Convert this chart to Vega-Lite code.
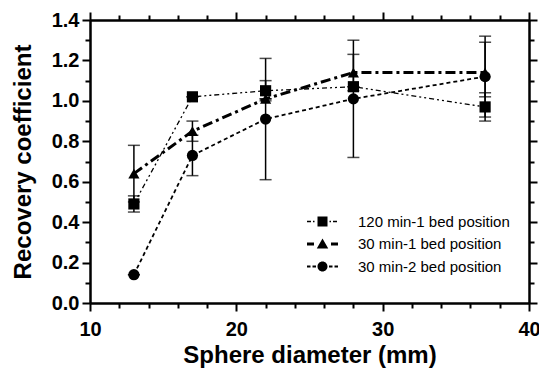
{
  "$schema": "https://vega.github.io/schema/vega-lite/v6.json",
  "width": 439,
  "height": 283,
  "autosize": "none",
  "padding": {"left": 90, "top": 20, "right": 10, "bottom": 67},
  "background": "white",
  "config": {
    "view": {"stroke": null},
    "axis": {
      "grid": false,
      "domainColor": "black",
      "domainWidth": 2,
      "tickColor": "black",
      "tickWidth": 2,
      "labelFont": "Liberation Sans",
      "labelFontWeight": "bold",
      "labelFontSize": 20,
      "labelColor": "black",
      "labelFlush": false,
      "labelOverlap": false,
      "titleFont": "Liberation Sans",
      "titleFontWeight": "bold",
      "titleFontSize": 24,
      "titleColor": "black"
    }
  },
  "data": {
    "values": [
      {"s": "120 min-1 bed position", "d": 13, "rc": 0.49, "lo": 0.45, "hi": 0.53},
      {"s": "120 min-1 bed position", "d": 17, "rc": 1.02, "lo": 1.02, "hi": 1.02},
      {"s": "120 min-1 bed position", "d": 22, "rc": 1.05, "lo": 1.00, "hi": 1.10},
      {"s": "120 min-1 bed position", "d": 28, "rc": 1.07, "lo": 1.07, "hi": 1.07},
      {"s": "120 min-1 bed position", "d": 37, "rc": 0.97, "lo": 0.90, "hi": 1.04},
      {"s": "30 min-1 bed position", "d": 13, "rc": 0.64, "lo": 0.50, "hi": 0.78},
      {"s": "30 min-1 bed position", "d": 17, "rc": 0.85, "lo": 0.80, "hi": 0.90},
      {"s": "30 min-1 bed position", "d": 22, "rc": 1.01, "lo": 1.01, "hi": 1.01},
      {"s": "30 min-1 bed position", "d": 28, "rc": 1.14, "lo": 1.05, "hi": 1.23},
      {"s": "30 min-1 bed position", "d": 37, "rc": 1.14, "lo": 1.02, "hi": 1.29},
      {"s": "30 min-2 bed position", "d": 13, "rc": 0.14, "lo": 0.14, "hi": 0.14},
      {"s": "30 min-2 bed position", "d": 17, "rc": 0.73, "lo": 0.63, "hi": 0.83},
      {"s": "30 min-2 bed position", "d": 22, "rc": 0.91, "lo": 0.61, "hi": 1.21},
      {"s": "30 min-2 bed position", "d": 28, "rc": 1.01, "lo": 0.72, "hi": 1.30},
      {"s": "30 min-2 bed position", "d": 37, "rc": 1.12, "lo": 0.92, "hi": 1.32}
    ]
  },
  "layer": [
    {
      "mark": {"type": "rule", "color": "black", "strokeWidth": 1.5},
      "encoding": {
        "x": {"field": "d", "type": "quantitative", "scale": {"domain": [10, 40], "nice": false, "zero": false},
              "axis": {"orient": "bottom", "values": [12,14,16,18,22,24,26,28,32,34,36,38], "tickSize": 5, "labels": false, "title": null}},
        "y": {"field": "lo", "type": "quantitative", "scale": {"domain": [0, 1.4], "nice": false, "zero": false},
              "axis": {"orient": "left", "values": [0.1,0.3,0.5,0.7,0.9,1.1,1.3], "tickSize": 5, "labels": false, "title": null}},
        "y2": {"field": "hi"}
      }
    },
    {
      "mark": {"type": "tick", "orient": "horizontal", "color": "black", "size": 12, "thickness": 1.5},
      "encoding": {
        "x": {"field": "d", "type": "quantitative",
              "axis": {"orient": "top", "values": [12,14,16,18,22,24,26,28,32,34,36,38], "tickSize": 5, "labels": false, "title": null}},
        "y": {"field": "lo", "type": "quantitative",
              "axis": {"orient": "right", "values": [0.1,0.3,0.5,0.7,0.9,1.1,1.3], "tickSize": 5, "labels": false, "title": null}}
      }
    },
    {
      "mark": {"type": "tick", "orient": "horizontal", "color": "black", "size": 12, "thickness": 1.5},
      "encoding": {
        "x": {"field": "d", "type": "quantitative",
              "axis": {"orient": "bottom", "values": [10,20,30,40], "tickSize": 8, "labelPadding": 8, "title": "Sphere diameter (mm)", "titleBaseline": "alphabetic", "titleY": 59}},
        "y": {"field": "hi", "type": "quantitative",
              "axis": {"orient": "left", "values": [0,0.2,0.4,0.6,0.8,1.0,1.2,1.4], "format": ".1f", "tickSize": 8, "labelPadding": 3, "title": "Recovery coefficient", "titleBaseline": "alphabetic", "titleX": -60}}
      }
    },
    {
      "mark": {"type": "line", "color": "black"},
      "encoding": {
        "x": {"field": "d", "type": "quantitative",
              "axis": {"orient": "top", "values": [10,20,30,40], "tickSize": 8, "labels": false, "title": null}},
        "y": {"field": "rc", "type": "quantitative",
              "axis": {"orient": "right", "values": [0,0.2,0.4,0.6,0.8,1.0,1.2,1.4], "tickSize": 8, "labels": false, "title": null}},
        "detail": {"field": "s"},
        "strokeDash": {"field": "s", "type": "nominal", "legend": null,
                       "scale": {"domain": ["120 min-1 bed position", "30 min-1 bed position", "30 min-2 bed position"], "range": [[5,3,2,3,2,3],[10,4,3,4],[4,3]]}},
        "strokeWidth": {"field": "s", "type": "nominal", "legend": null,
                        "scale": {"type": "ordinal", "domain": ["120 min-1 bed position", "30 min-1 bed position", "30 min-2 bed position"], "range": [1.3, 3, 1.8]}},
        "order": {"field": "d"}
      }
    },
    {
      "mark": {"type": "point", "filled": true, "color": "black", "opacity": 1, "size": 125},
      "encoding": {
        "x": {"field": "d", "type": "quantitative", "axis": null},
        "y": {"field": "rc", "type": "quantitative", "axis": null},
        "shape": {"field": "s", "type": "nominal", "legend": null,
                  "scale": {"domain": ["120 min-1 bed position", "30 min-1 bed position", "30 min-2 bed position"], "range": ["square", "triangle-up", "circle"]}}
      }
    },
    {
      "mark": {"type": "point", "filled": true, "color": "black", "opacity": 0},
      "encoding": {
        "x": {"field": "d", "type": "quantitative", "axis": null},
        "y": {"field": "rc", "type": "quantitative", "axis": null},
        "shape": {"field": "s", "type": "nominal",
                  "scale": {"domain": ["120 min-1 bed position", "30 min-1 bed position", "30 min-2 bed position"],
                            "range": [
                              "M-3.1,-0.15H-2.3V0.15H-3.1Z M-1.9,-0.15H-1.6V0.15H-1.9Z M-1,-1H1V1H-1Z M1.4,-0.15H1.7V0.15H1.4Z M2.1,-0.15H2.9V0.15H2.1Z",
                              "M-3.1,-0.3H-1.7V0.3H-3.1Z M0,-1.1L1.15,0.9H-1.15Z M1.7,-0.3H3.1V0.3H1.7Z",
                              "M-3.1,-0.2H-2.4V0.2H-3.1Z M-2,-0.2H-1.3V0.2H-2Z M-1,0A1,1,0,1,0,1,0A1,1,0,1,0,-1,0Z M1.3,-0.2H2V0.2H1.3Z M2.4,-0.2H3.1V0.2H2.4Z"
                            ]},
                  "legend": {"title": null, "orient": "none", "legendX": 225, "legendY": 194, "padding": 0,
                             "symbolSize": 100, "symbolFillColor": "black", "symbolStrokeColor": "black", "symbolStrokeWidth": 0, "symbolOpacity": 1,
                             "labelFont": "Liberation Sans", "labelFontSize": 15, "labelColor": "black", "labelOffset": 28, "rowPadding": 6.5}}
      }
    }
  ],
  "resolve": {
    "axis": {"x": "independent", "y": "independent"},
    "scale": {"shape": "independent"},
    "legend": {"shape": "independent"}
  }
}
